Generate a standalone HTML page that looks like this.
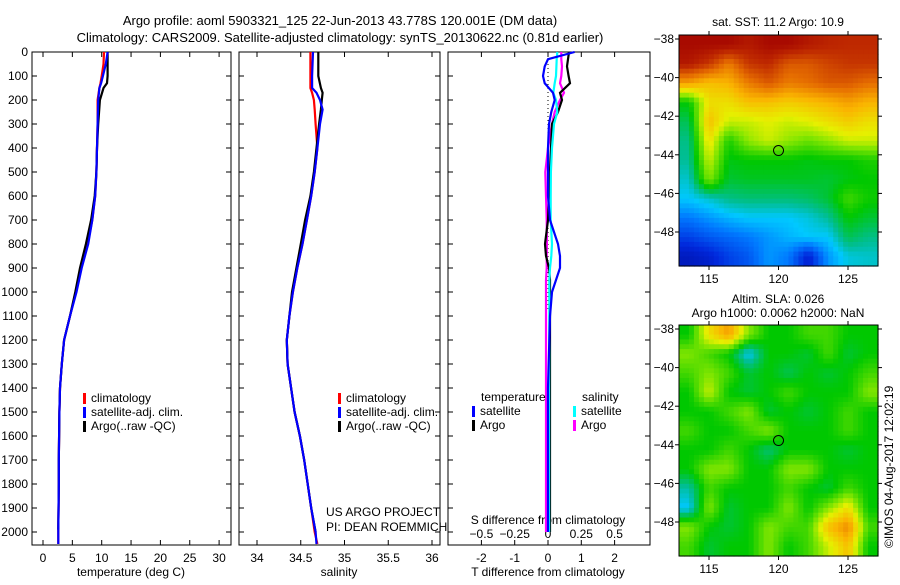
<!DOCTYPE html>
<html><head><meta charset="utf-8"><style>
body{margin:0;background:#fff}
svg{font-family:"Liberation Sans",sans-serif;font-size:12px}
</style></head><body>
<svg id="c" width="900" height="580" xmlns="http://www.w3.org/2000/svg">
<rect width="900" height="580" fill="#fff"/>
<text x="340" y="25" text-anchor="middle" font-size="13">Argo profile: aoml 5903321_125 22-Jun-2013 43.778S 120.001E (DM data)</text>
<text x="340" y="42" text-anchor="middle" font-size="13">Climatology: CARS2009. Satellite-adjusted climatology: synTS_20130622.nc (0.81d earlier)</text>
<g id="g"></g>
</svg>
<script>
// ---- data ----
const depthT=[0,50,100,130,150,200,300,400,500,600,700,800,900,1000,1100,1200,1300,1400,1500,1700,1800,1990,2050];
const tempClim=[10.4,10.3,10.0,9.8,9.6,9.3,9.3,9.2,9.1,8.9,8.4,7.6,6.5,5.6,4.6,3.6,3.2,2.9,2.8,2.7,2.7,2.6,2.6];
const tempSat=[11.0,10.7,10.2,9.9,9.6,9.4,9.3,9.2,9.1,8.9,8.4,7.7,6.6,5.7,4.6,3.6,3.2,2.9,2.8,2.7,2.7,2.6,2.6];
const tempArgo=[11.0,11.0,11.0,10.9,10.3,9.7,9.4,9.2,9.1,8.8,8.2,7.3,6.3,5.5,4.6,3.6,3.2,2.9,2.8,2.7,2.7,2.6,null];
const depthS=[0,100,150,170,200,240,300,400,500,600,700,800,900,1000,1100,1200,1300,1400,1500,1600,1700,1800,1900,2000,2050];
const salClim=[34.61,34.61,34.61,34.63,34.65,34.66,34.67,34.69,34.66,34.62,34.57,34.52,34.46,34.41,34.37,34.34,34.35,34.39,34.43,34.49,34.54,34.58,34.62,34.66,34.69];
const salSat=[34.64,34.63,34.63,34.68,34.72,34.75,34.72,34.69,34.66,34.62,34.57,34.52,34.46,34.41,34.37,34.34,34.35,34.39,34.43,34.49,34.54,34.58,34.62,34.67,34.68];
const salArgo=[34.70,34.70,34.73,34.75,34.74,34.73,34.71,34.68,34.65,34.61,34.55,34.50,34.45,34.40,34.37,34.34,34.35,34.39,34.43,34.49,34.54,34.58,34.62,34.67,null];
const depthD=[0,30,60,100,130,170,200,250,300,400,500,600,700,800,850,900,950,1000,1100,1400,1700,2000];
const dTsat=[0.8,0.0,-0.1,-0.15,-0.1,0.15,0.2,0.1,0.03,0.0,0.0,0.0,0.06,0.3,0.36,0.36,0.24,0.12,0.06,0.0,0.0,0.0];
const dTargo=[0.63,0.6,0.57,0.62,0.66,0.36,0.42,0.3,0.12,0.09,0.06,0.03,0.0,-0.09,-0.06,0.03,0.06,0.06,0.06,0.06,0.06,0.06];
const dSsat=[0.07,0.065,0.063,0.06,0.05,0.04,0.06,0.07,0.045,0.03,0.022,0.02,0.02,0.03,0.025,0.015,0.01,0.01,0.01,0.008,0.008,0.008];
const dSargo=[0.1,0.1,0.105,0.1,0.09,0.12,0.09,0.05,0.03,0.0,-0.02,-0.015,-0.01,-0.008,-0.01,-0.01,-0.015,-0.015,-0.015,-0.015,-0.015,-0.015];
const sstGrid=[
[.98,.98,.98,.95,.98,.98,.95,.93,.92,.92],
[.95,.9,.8,.9,.92,.85,.85,.88,.9,.9],
[.75,.7,.72,.8,.85,.8,.82,.85,.85,.82],
[.45,.65,.65,.7,.7,.68,.7,.72,.75,.72],
[.4,.7,.6,.6,.62,.6,.62,.65,.68,.65],
[.37,.65,.47,.56,.6,.56,.53,.56,.6,.6],
[.36,.6,.44,.45,.45,.45,.44,.45,.45,.47],
[.33,.55,.42,.43,.43,.43,.43,.42,.44,.45],
[.3,.33,.37,.38,.38,.38,.39,.42,.5,.46],
[.22,.25,.28,.3,.3,.3,.32,.36,.45,.42],
[.15,.18,.2,.22,.25,.28,.3,.3,.4,.37],
[.08,.1,.15,.18,.25,.22,.1,.25,.32,.33]];
const slaGrid=[
[.45,.65,.75,.55,.45,.45,.5,.5,.45,.45],
[.55,.5,.45,.3,.45,.45,.42,.5,.42,.45],
[.5,.55,.5,.42,.45,.4,.45,.42,.45,.5],
[.45,.6,.45,.42,.45,.5,.45,.45,.45,.55],
[.45,.45,.5,.55,.42,.45,.42,.45,.5,.45],
[.5,.45,.45,.5,.55,.45,.45,.45,.5,.45],
[.45,.45,.5,.45,.38,.45,.45,.45,.42,.45],
[.45,.55,.55,.45,.45,.55,.55,.45,.45,.45],
[.35,.5,.45,.45,.45,.5,.45,.42,.5,.45],
[.3,.55,.42,.45,.45,.55,.45,.55,.65,.45],
[.55,.45,.42,.45,.55,.5,.5,.7,.78,.5],
[.5,.42,.45,.45,.55,.45,.5,.6,.7,.45]];
const depthTicks=[0,100,200,300,400,500,600,700,800,900,1000,1100,1200,1300,1400,1500,1600,1700,1800,1900,2000];
const tTicks=[0,5,10,15,20,25,30];
const sTicks=[34,34.5,35,35.5,36];
const dTticks=[-2,-1,0,1,2];
const dSticks=[-0.5,-0.25,0,0.25,0.5];
const latTicks=[-38,-40,-42,-44,-46,-48];
const lonTicks=[115,120,125];
const argoLon=120.001, argoLat=-43.778;

// ---- drawing ----
const NS='http://www.w3.org/2000/svg';const G=document.getElementById('g');
function mk(t,a,p){const e=document.createElementNS(NS,t);for(const k in a)e.setAttribute(k,a[k]);(p||G).appendChild(e);return e;}
const yD=d=>52+d*0.24;
const P1={x0:32,x1:231},P2={x0:239,x1:440},P3={x0:448,x1:650};
const xT=v=>43+v*5.87, xS=v=>257+(v-34)*87.5, xDT=v=>548+v*33.3, xDS=v=>548+v*133.2;
function frame(P,name){const r=mk('rect',{x:P.x0,y:52,width:P.x1-P.x0,height:493,fill:'none',stroke:'#000'});

depthTicks.forEach(d=>{mk('line',{x1:P.x0,x2:P.x0+5,y1:yD(d),y2:yD(d),stroke:'#000'});mk('line',{x1:P.x1,x2:P.x1-5,y1:yD(d),y2:yD(d),stroke:'#000'});});}
frame(P1,'temperature-panel');frame(P2,'salinity-panel');frame(P3,'difference-panel');
depthTicks.forEach(d=>{const t=mk('text',{x:28,y:yD(d)+4,'text-anchor':'end'});t.textContent=d;
});
function xticks(ticks,f,y0,y1,ly,fmt){ticks.forEach(v=>{const x=f(v);mk('line',{x1:x,x2:x,y1:y0,y2:y1,stroke:'#000'});
if(ly){const t=mk('text',{x:x,y:ly,'text-anchor':'middle'});t.textContent=fmt?fmt(v):v;
}});}
xticks(tTicks,xT,545,540,562);xticks(tTicks,xT,52,57);
xticks(sTicks,xS,545,540,562);xticks(sTicks,xS,52,57);
xticks(dTticks,xDT,545,540,562);xticks(dTticks,xDT,52,57);
xticks(dSticks,xDS,0,0,538,v=>v<0?'\u2212'+(-v):v);
function lab(x,y,s,name,anchor){const t=mk('text',{x:x,y:y,'text-anchor':anchor||'middle'});t.textContent=s;
return t;}
lab(131,576,'temperature (deg C)','x-axis-title-temperature');
lab(339,576,'salinity','x-axis-title-salinity');
lab(548,576,'T difference from climatology','x-axis-title-t-diff');
lab(548,524,'S difference from climatology','x-axis-title-s-diff');
lab(326,516,'US ARGO PROJECT','project-label','start');
lab(326,531,'PI: DEAN ROEMMICH','pi-label','start');
function line(xs,ys,fx,col,name,w){let d='';xs.forEach((v,i)=>{if(v==null)return;d+=(d?'L':'M')+fx(v).toFixed(1)+','+yD(ys[i]).toFixed(1);});
const p=mk('path',{d:d,fill:'none',stroke:col,'stroke-width':w||2.2});}
line(tempClim,depthT,xT,'#f00','temp-climatology-line');line(tempArgo,depthT,xT,'#000','temp-argo-line');line(tempSat,depthT,xT,'#00f','temp-satellite-line');
line(salClim,depthS,xS,'#f00','sal-climatology-line');line(salArgo,depthS,xS,'#000','sal-argo-line');line(salSat,depthS,xS,'#00f','sal-satellite-line');
mk('line',{x1:548,x2:548,y1:52,y2:310,stroke:'#000','stroke-dasharray':'1,3'});
line(dSargo,depthD,xDS,'#f0f','s-diff-argo-line');line(dTargo,depthD,xDT,'#000','t-diff-argo-line');line(dSsat,depthD,xDS,'#0ff','s-diff-satellite-line');line(dTsat,depthD,xDT,'#00f','t-diff-satellite-line');
function leg(x,y,col,s,name){mk('rect',{x:x,y:y-9,width:3,height:11,fill:col});const t=lab(x+8,y,s,name,'start');}
[[P1,0],[P2,255]].forEach(([P,o])=>{leg(83+o,402,'#f00','climatology','legend-climatology');leg(83+o,416,'#00f','satellite-adj. clim.','legend-satellite-adj');leg(83+o,430,'#000','Argo(..raw -QC)','legend-argo');});
lab(481,401,'temperature','legend-header-temperature','start');lab(582,401,'salinity','legend-header-salinity','start');
leg(472,415,'#00f','satellite','legend-t-satellite');leg(472,429,'#000','Argo','legend-t-argo');
leg(573,415,'#0ff','satellite','legend-s-satellite');leg(573,429,'#f0f','Argo','legend-s-argo');
// maps
const cmapStops=[[0,0,0,130],[.12,0,40,220],[.22,0,120,255],[.3,0,200,255],[.36,0,190,150],[.45,0,200,0],[.55,130,230,0],[.62,230,240,0],[.72,250,180,0],[.82,230,110,0],[.92,190,40,0],[1,160,0,0]];
function cmap(v){v=Math.max(0,Math.min(1,v));for(let i=1;i<cmapStops.length;i++){const a=cmapStops[i-1],b=cmapStops[i];if(v<=b[0]){const t=(v-a[0])/(b[0]-a[0]);
return 'rgb('+[1,2,3].map(k=>Math.round(a[k]+(b[k]-a[k])*t)).join(',')+')';}}return 'rgb(160,0,0)';}
function sample(grid,r,c){const R=grid.length-1,C=grid[0].length-1;r=Math.max(0,Math.min(R,r));c=Math.max(0,Math.min(C,c));
const r0=Math.floor(r),c0=Math.floor(c),r1=Math.min(R,r0+1),c1=Math.min(C,c0+1),fr=r-r0,fc=c-c0;
return grid[r0][c0]*(1-fr)*(1-fc)+grid[r0][c1]*(1-fr)*fc+grid[r1][c0]*fr*(1-fc)+grid[r1][c1]*fr*fc;}
function map(top,grid,name,title1,title2){const x0=679,x1=878,yb=top+231;const lon=v=>709+(v-115)*13.9, lat=v=>top+4+(-38-v)*19.3;
const rows=grid.length,cols=grid[0].length,S=4,nr=rows*S,nc=cols*S,cw=(x1-x0)/nc,ch=(yb-top)/nr;
for(let i=0;i<nr;i++)for(let j=0;j<nc;j++){const v=sample(grid,(i+0.5)/S-0.5,(j+0.5)/S-0.5);
const c=mk('rect',{x:(x0+j*cw).toFixed(2),y:(top+i*ch).toFixed(2),width:(cw+0.6).toFixed(2),height:(ch+0.6).toFixed(2),fill:cmap(v)});
}
const f=mk('rect',{x:x0,y:top,width:x1-x0,height:yb-top,fill:'none',stroke:'#000'});
latTicks.forEach(v=>{const y=lat(v);mk('line',{x1:x0-4,x2:x0,y1:y,y2:y,stroke:'#000'});mk('line',{x1:x1,x2:x1+4,y1:y,y2:y,stroke:'#000'});
lab(674,y+4,String(v).replace('-','\u2212'),'lat-tick-label','end');});
lonTicks.forEach(v=>{const x=lon(v);mk('line',{x1:x,x2:x,y1:top-4,y2:top,stroke:'#000'});mk('line',{x1:x,x2:x,y1:yb,y2:yb+4,stroke:'#000'});lab(x,yb+17,v,'lon-tick-label');});
const m=mk('circle',{cx:lon(argoLon),cy:lat(argoLat),r:5,fill:'none',stroke:'#000'});
if(title2){lab(778,top-22,title1,name+'-title');lab(778,top-8,title2,name+'-subtitle');}else lab(778,top-9,title1,name+'-title');}
map(35,sstGrid,'sst-map','sat. SST: 11.2 Argo: 10.9');
map(325,slaGrid,'sla-map','Altim. SLA: 0.026','Argo h1000: 0.0062 h2000: NaN');
const cr=mk('text',{x:0,y:0,transform:'translate(893,548) rotate(-90)'});cr.textContent='\u00a9IMOS 04-Aug-2017 12:02:19';

</script>
</body></html>
